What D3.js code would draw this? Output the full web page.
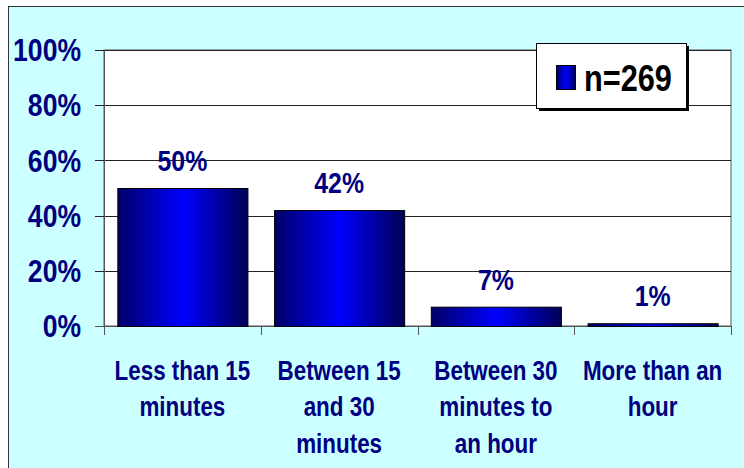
<!DOCTYPE html>
<html>
<head>
<meta charset="utf-8">
<script src="https://cdn.jsdelivr.net/npm/d3@7"></script>
<style>
  html, body { margin: 0; padding: 0; background: #ffffff; }
  svg { display: block; }
  text { font-family: "Liberation Sans", Arial, sans-serif; font-weight: bold; }
</style>
</head>
<body>
<svg id="chart" width="744" height="468"></svg>
<script>
// Travel time categories and share of respondents
const categories = [
  ["Less than 15", "minutes"],
  ["Between 15", "and 30", "minutes"],
  ["Between 30", "minutes to", "an hour"],
  ["More than an", "hour"]
];
const shares = [50, 42, 7, 1];
const yTicks = [0, 20, 40, 60, 80, 100];
const seriesName = "n=269";

const W = 744, H = 468;
const plot = { left: 104, right: 731, top: 50, bottom: 326 };
const NARROW = 0.83; // horizontal squeeze giving a narrow typeface

const svg = d3.select("#chart");

// Chart area: pale cyan panel with a thin frame
svg.append("rect").attr("x", 8.5).attr("y", 6.5).attr("width", W).attr("height", H)
  .attr("fill", "#ccffff").attr("stroke", "#333").attr("stroke-width", 1);

const x = d3.scaleBand().domain(d3.range(categories.length))
  .range([plot.left, plot.right]).paddingInner(0.17).paddingOuter(0.085);
const xCat = d3.scaleBand().domain(d3.range(categories.length))
  .range([plot.left, plot.right]);
const y = d3.scaleLinear().domain([0, 100]).range([plot.bottom, plot.top]);

// Plot area
svg.append("rect").attr("x", plot.left).attr("y", plot.top)
  .attr("width", plot.right - plot.left).attr("height", plot.bottom - plot.top)
  .attr("fill", "#ffffff").attr("stroke", "#555").attr("stroke-width", 1);

// Bar gradient: dark navy edges, bright blue centre
const defs = svg.append("defs");
const grad = defs.append("linearGradient").attr("id", "barGrad")
  .attr("x1", "0%").attr("x2", "100%").attr("y1", "0%").attr("y2", "0%");
grad.append("stop").attr("offset", "0%").attr("stop-color", "#000066");
grad.append("stop").attr("offset", "50%").attr("stop-color", "#0000ff");
grad.append("stop").attr("offset", "100%").attr("stop-color", "#000055");

// Horizontal gridlines with outward ticks
svg.append("g").selectAll("line").data(yTicks).join("line")
  .attr("x1", plot.left - 9).attr("x2", plot.right)
  .attr("y1", d => Math.round(y(d)) + 0.5).attr("y2", d => Math.round(y(d)) + 0.5)
  .attr("stroke", d => d === 0 ? "#555" : "#222").attr("stroke-width", 1);

// Y axis line
svg.append("line").attr("x1", plot.left + 0.5).attr("x2", plot.left + 0.5)
  .attr("y1", plot.top).attr("y2", plot.bottom + 9)
  .attr("stroke", "#555");

// Category tick marks below the axis
const catEdges = d3.range(categories.length + 1).map(i =>
  i < categories.length ? xCat(i) : xCat(categories.length - 1) + xCat.bandwidth());
svg.append("g").selectAll("line").data(catEdges).join("line")
  .attr("x1", d => Math.round(d) + 0.5).attr("x2", d => Math.round(d) + 0.5)
  .attr("y1", plot.bottom).attr("y2", plot.bottom + 9)
  .attr("stroke", "#555");

// Y tick labels
svg.append("g").selectAll("text").data(yTicks).join("text")
  .attr("transform", d => `translate(81,${y(d)}) scale(${NARROW},1)`)
  .attr("text-anchor", "end").attr("dy", "0.35em")
  .attr("font-size", 32).attr("fill", "#000080")
  .text(d => d + "%");

// Bars
svg.append("g").selectAll("rect").data(shares).join("rect")
  .attr("x", (d, i) => x(i) + 0.5).attr("width", x.bandwidth())
  .attr("y", d => y(d) + 0.5).attr("height", d => y(0) - y(d))
  .attr("fill", "url(#barGrad)").attr("stroke", "#000").attr("stroke-width", 1);

// Value labels
svg.append("g").selectAll("text").data(shares).join("text")
  .attr("transform", (d, i) => `translate(${x(i) + x.bandwidth() / 2},${y(d) - 17}) scale(${NARROW},1)`)
  .attr("text-anchor", "middle")
  .attr("font-size", 30).attr("fill", "#000080")
  .text(d => d + "%");

// Category labels (multi-line)
const catG = svg.append("g").selectAll("text").data(categories).join("text")
  .attr("transform", (d, i) => `translate(${xCat(i) + xCat.bandwidth() / 2},380) scale(${NARROW},1)`)
  .attr("text-anchor", "middle")
  .attr("font-size", 27).attr("fill", "#000080");
catG.selectAll("tspan").data(d => d).join("tspan")
  .attr("x", 0).attr("y", (d, j) => j * 36.5)
  .text(d => d);

// Legend with drop shadow
const lg = svg.append("g");
lg.append("rect").attr("x", 539).attr("y", 46).attr("width", 150).attr("height", 65).attr("fill", "#000");
lg.append("rect").attr("x", 536.5).attr("y", 43.5).attr("width", 150).attr("height", 65)
  .attr("fill", "#fff").attr("stroke", "#000");
lg.append("rect").attr("x", 556.5).attr("y", 65.5).attr("width", 19).attr("height", 24)
  .attr("fill", "url(#barGrad)").attr("stroke", "#000");
lg.append("text")
  .attr("transform", `translate(584,91) scale(${NARROW},1)`)
  .attr("font-size", 37).attr("fill", "#000")
  .text(seriesName);
</script>
</body>
</html>
